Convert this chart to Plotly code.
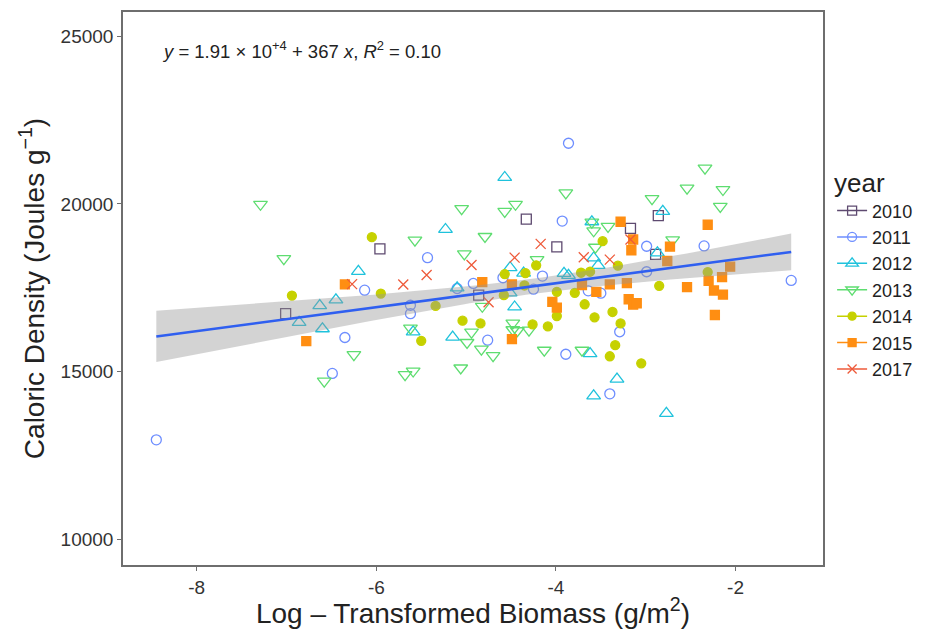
import numpy as np
import plotly.graph_objects as go

years = ["2010", "2011", "2012", "2013", "2014", "2015", "2017"]

x2010 = [-7.01, -5.96, -4.86, -4.33, -3.99, -3.17, -2.86, -2.89]
y2010 = [16730, 18660, 17280, 19550, 18720, 19270, 19650, 18500]

x2011 = [-8.45, -3.86, -3.93, -5.43, -6.13, -5.62, -5.62, -6.35, -6.49, -4.92, -4.59, -4.15,
         -4.25, -4.76, -3.89, -3.64, -3.50, -2.99, -2.99, -3.29, -3.40, -2.35, -1.38, -5.10]
y2011 = [12970, 21810, 19490, 18400, 17430, 16980, 16730, 16020, 14950, 17630, 17800, 17850,
         17460, 15940, 15520, 17410, 17340, 18740, 17980, 16190, 14340, 18750, 17720, 17480]

x2012 = [-4.57, -5.23, -6.20, -6.45, -6.63, -6.86, -6.60, -5.59, -5.15, -5.10, -4.51, -4.36, -4.46,
         -4.51, -3.91, -3.86, -3.58, -3.53, -3.60, -2.81, -2.87, -3.62, -3.32, -3.58, -2.77]
y2012 = [20790, 19240, 17990, 17140, 16970, 16470, 16280, 16190, 16030, 17500, 18100, 17940, 16930,
         17350, 17930, 17870, 18390, 18170, 19470, 19780, 18540, 15540, 14780, 14280, 13760]

x2013 = [-7.29, -7.03, -6.25, -6.58, -5.57, -5.05, -4.57, -4.45, -4.79, -5.02, -4.21, -5.62, -4.82,
         -4.48, -4.48, -4.43, -4.30, -4.94, -4.99, -4.83, -4.70, -4.13, -3.71, -5.06, -5.68, -5.59,
         -3.89, -3.58, -3.56, -3.42, -2.93, -2.54, -2.34, -2.14, -2.17, -2.70, -3.60]
y2013 = [19990, 18370, 15510, 14720, 18920, 19860, 19780, 19990, 19030, 18510, 18340, 16300, 16950,
         16450, 16250, 16220, 16240, 16180, 15870, 15670, 15480, 15640, 15640, 15110, 14910, 15020,
         20330, 19200, 18710, 19330, 20160, 20470, 21070, 20430, 19930, 18930, 19460]

x2014 = [-6.05, -6.94, -5.95, -5.34, -5.50, -5.04, -4.84, -4.57, -4.58, -4.35, -4.34, -4.22, -4.26,
         -4.09, -3.99, -3.99, -3.79, -3.72, -3.62, -3.68, -3.57, -3.48, -3.31, -3.37, -3.28, -3.34,
         -3.40, -3.05, -2.85, -2.31]
y2014 = [19010, 17270, 17330, 16960, 15920, 16520, 16440, 17910, 17280, 17570, 17940, 18170, 16410,
         16350, 17380, 16660, 17350, 17950, 17980, 17010, 16620, 18890, 18160, 16780, 16440, 15790,
         15460, 15250, 17560, 17970]

x2015 = [-6.35, -6.78, -4.82, -4.49, -4.49, -4.04, -3.99, -3.71, -3.55, -3.40, -3.21, -3.19, -3.14,
         -3.10, -3.28, -3.16, -3.14, -2.76, -2.73, -2.54, -2.31, -2.30, -2.15, -2.24, -2.14, -2.23, -2.06]
y2015 = [17600, 15910, 17670, 17600, 15970, 17080, 16910, 17580, 17380, 17600, 17640, 17160, 17000,
         17040, 19470, 18620, 18940, 18300, 18730, 17520, 19380, 17710, 17820, 17420, 17300, 16690, 18130]

x2017 = [-6.27, -5.70, -5.44, -4.94, -4.46, -4.17, -4.75, -3.69, -3.40, -3.17]
y2017 = [17610, 17600, 17880, 18180, 18400, 18810, 17070, 18410, 18340, 18940]

x_ticks = [-8, -6, -4, -2]
y_ticks = [10000, 15000, 20000, 25000]

xs = [x2010, x2011, x2012, x2013, x2014, x2015, x2017]
ys = [y2010, y2011, y2012, y2013, y2014, y2015, y2017]

colors = ["#5E4A70", "#6E8EFF", "#1FC2DC", "#5EDD70", "#C6D100", "#FF8E12", "#EE5A3A"]
symbols = ["square-open", "circle-open", "triangle-up-open", "triangle-down-open",
           "circle", "square", "x-thin-open"]
sizes = [10, 10, 12, 12, 9, 9, 10]

fig = go.Figure()

for yr, xv, yv, c, s, sz in zip(years, xs, ys, colors, symbols, sizes):
    fig.add_trace(go.Scatter(
        x=xv, y=yv, mode="markers", name=yr, legendgroup=yr, showlegend=False,
        marker=dict(symbol=s, size=sz, color=c, line=dict(color=c, width=1.3)),
    ))

# linear fit with 95% confidence band
X = np.concatenate([np.array(v, float) for v in xs])
Y = np.concatenate([np.array(v, float) for v in ys])
n = len(X)
slope, intercept = np.polyfit(X, Y, 1)
resid = Y - (intercept + slope * X)
s_err = np.sqrt(np.sum(resid ** 2) / (n - 2))
xbar = X.mean()
sxx = np.sum((X - xbar) ** 2)
xg = np.linspace(X.min(), X.max(), 80)
yg = intercept + slope * xg
se = s_err * np.sqrt(1.0 / n + (xg - xbar) ** 2 / sxx)
tval = 1.974
upper = yg + tval * se
lower = yg - tval * se

fig.add_trace(go.Scatter(x=xg, y=lower, mode="lines", line=dict(width=0),
                         showlegend=False, hoverinfo="skip"))
fig.add_trace(go.Scatter(x=xg, y=upper, mode="lines", line=dict(width=0),
                         fill="tonexty", fillcolor="rgba(150,150,150,0.42)",
                         showlegend=False, hoverinfo="skip"))
fig.add_trace(go.Scatter(x=xg, y=yg, mode="lines", line=dict(color="#2F5FF0", width=2.6),
                         showlegend=False, hoverinfo="skip"))

# legend keys
for yr, c, s, sz in zip(years, colors, symbols, sizes):
    fig.add_trace(go.Scatter(
        x=[None], y=[None], mode="lines+markers", name=yr, legendgroup=yr,
        line=dict(color=c, width=1.5),
        marker=dict(symbol=s, size=sz - 1, color=c, line=dict(color=c, width=1.3)),
    ))

font_family = "Liberation Sans, Arial, sans-serif"

fig.add_annotation(
    text="<i>y</i> = 1.91 × 10<sup>+4</sup> + 367 <i>x</i>, <i>R</i><sup>2</sup> = 0.10",
    xref="paper", yref="paper", x=0.053, y=0.932, xanchor="left", yanchor="middle",
    showarrow=False, font=dict(size=18.5, color="#222222", family=font_family),
)

fig.update_layout(
    width=927, height=621,
    margin=dict(l=115, r=112, t=2, b=64),
    paper_bgcolor="white", plot_bgcolor="white",
    font=dict(family=font_family, color="#222222"),
    showlegend=True,
    legend=dict(
        title=dict(text="year", font=dict(size=26, color="#222222")),
        font=dict(size=18, color="#222222"),
        x=1.013, xanchor="left", y=0.735, yanchor="top",
        tracegroupgap=0, itemwidth=30, bgcolor="rgba(0,0,0,0)",
    ),
    xaxis=dict(
        range=[-8.821, -1.026], tickvals=x_ticks, ticktext=[str(v) for v in x_ticks],
        showgrid=False, zeroline=False, showline=True, mirror=True,
        linecolor="#6e6e6e", linewidth=1.5, ticks="outside", ticklen=4, tickcolor="#6e6e6e",
        tickfont=dict(size=19, color="#333333"),
        title=dict(text="Log – Transformed Biomass (g/m<sup>2</sup>)",
                   font=dict(size=28, color="#222222"), standoff=0),
    ),
    yaxis=dict(
        range=[9238, 25722], tickvals=y_ticks, ticktext=[str(v) for v in y_ticks],
        showgrid=False, zeroline=False, showline=True, mirror=True,
        linecolor="#6e6e6e", linewidth=1.5, ticks="outside", ticklen=4, tickcolor="#6e6e6e",
        tickfont=dict(size=19, color="#333333"),
        title=dict(text="Caloric Density (Joules g<sup>−1</sup>)",
                   font=dict(size=28, color="#222222"), standoff=8),
    ),
)

fig.write_html("out.html")
